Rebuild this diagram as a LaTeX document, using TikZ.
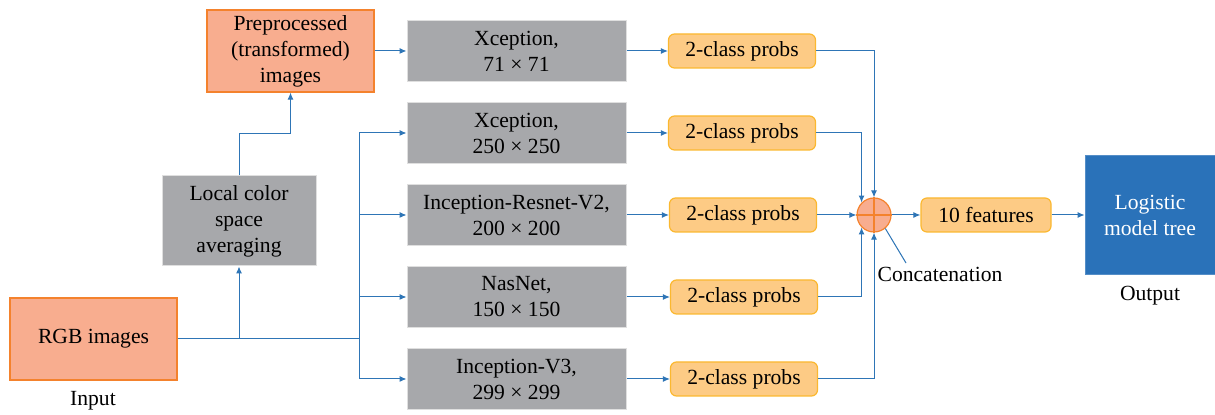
\documentclass[tikz,border=0pt]{standalone}
\usepackage{fontspec}
\setmainfont{Liberation Serif}
\usetikzlibrary{arrows.meta}
\definecolor{lineBlue}{HTML}{2E75B6}
\definecolor{inFill}{HTML}{F8AD8F}
\definecolor{inDraw}{HTML}{F4822D}
\definecolor{boxGray}{HTML}{A7A8AB}
\definecolor{probFill}{HTML}{FDCB85}
\definecolor{probDraw}{HTML}{FBB830}
\definecolor{outFill}{HTML}{2A72B9}

\begin{document}
\begin{tikzpicture}
      [x=0.5pt,y=-0.5pt,font=\fontsize{10.8}{13}\selectfont,
       nodeIn/.style={rectangle,fill=inFill,draw=inDraw,line width=0.6pt,
         minimum width=83.5pt,minimum height=41pt,inner sep=0pt,align=center},
       nodeGray/.style={rectangle,fill=boxGray,draw=gray!25,line width=0.5pt,
         inner sep=0pt,align=center},
       nodeModel/.style={nodeGray,minimum width=109.5pt,minimum height=30.5pt},
       nodeProb/.style={rectangle,rounded corners=3pt,fill=probFill,draw=probDraw,
         line width=0.6pt,minimum width=73.5pt,minimum height=17pt,inner sep=0pt},
       nodeSum/.style={circle,fill=inFill,draw=inDraw,line width=0.6pt,
         minimum size=17pt,inner sep=0pt},
       flow/.style={draw=lineBlue,line width=0.5pt,-{Latex[length=3.5pt,width=3pt]}}]
      \useasboundingbox (0,0) rectangle (1215,415);

      % input side
      \node[nodeIn] (rgb) at (93.5,339) {RGB images};
      \node (inLbl) at (93,401) {Input};
      \node[nodeGray,minimum width=77pt,minimum height=45pt] (lcsa) at (239,221)
        {Local color\\space\\averaging};
      \node[nodeIn] (prep) at (290.5,51) {Preprocessed\\(transformed)\\images};
      \coordinate (split) at (359,339);

      % networks
      \node[nodeModel] (m1) at (516.5,51) {Xception,\\71 × 71};
      \node[nodeModel] (m2) at (516.5,133) {Xception,\\250 × 250};
      \node[nodeModel] (m3) at (516.5,215) {Inception-Resnet-V2,\\200 × 200};
      \node[nodeModel] (m4) at (516.5,297) {NasNet,\\150 × 150};
      \node[nodeModel] (m5) at (516.5,379) {Inception-V3,\\299 × 299};

      \node[nodeProb] (p1) at (742,51) {2-class probs};
      \node[nodeProb] (p2) at (742,133) {2-class probs};
      \node[nodeProb] (p3) at (743,215) {2-class probs};
      \node[nodeProb] (p4) at (744,297) {2-class probs};
      \node[nodeProb] (p5) at (744,379) {2-class probs};

      % fusion and output
      \node[nodeSum] (cat) at (874,215) {};
      \node (catLbl) at (940,274) {Concatenation};
      \coordinate (catTip) at (906,263);
      \node[nodeProb,minimum width=65pt] (feat) at (986,215) {10 features};
      \node[rectangle,fill=outFill,draw=outFill!80,text=white,minimum width=65pt,
        minimum height=59.5pt,inner sep=0pt,align=center] (lmt) at (1150,215)
        {Logistic\\model tree};
      \node (outLbl) at (1150,296) {Output};

      \draw[inDraw,line width=0.6pt] (cat.north) -- (cat.south) (cat.west) -- (cat.east);
      \draw[lineBlue,line width=0.5pt] (cat.-50) -- (catTip);

      \draw[draw=lineBlue,line width=0.5pt] (rgb.east) -- (split);
      \draw[flow] (rgb.east -| lcsa) -- (lcsa.south);
      \draw[flow] (lcsa.north) -- ++(0,-42) -| (prep.south);
      \draw[flow] (prep.east) -- (m1.west);

      \foreach \to in {m2,m3,m4,m5}
      \draw[flow] (split) |- (\to.west);

      \foreach \from/\to in {m1/p1,m2/p2,m3/p3,m4/p4,m5/p5}
      \draw[flow] (\from.east) -- (\to.west);

      % into the concatenation
      \foreach \from/\to in {p1/north,p2/north west,p4/south west,p5/south}
      \draw[flow] (\from.east) -| (cat.\to);
      \draw[flow] (p3.east) -- (cat.west);
      \draw[flow] (cat.east) -- (feat.west);
      \draw[flow] (feat.east) -- (lmt.west);
    \end{tikzpicture}
\end{document}
